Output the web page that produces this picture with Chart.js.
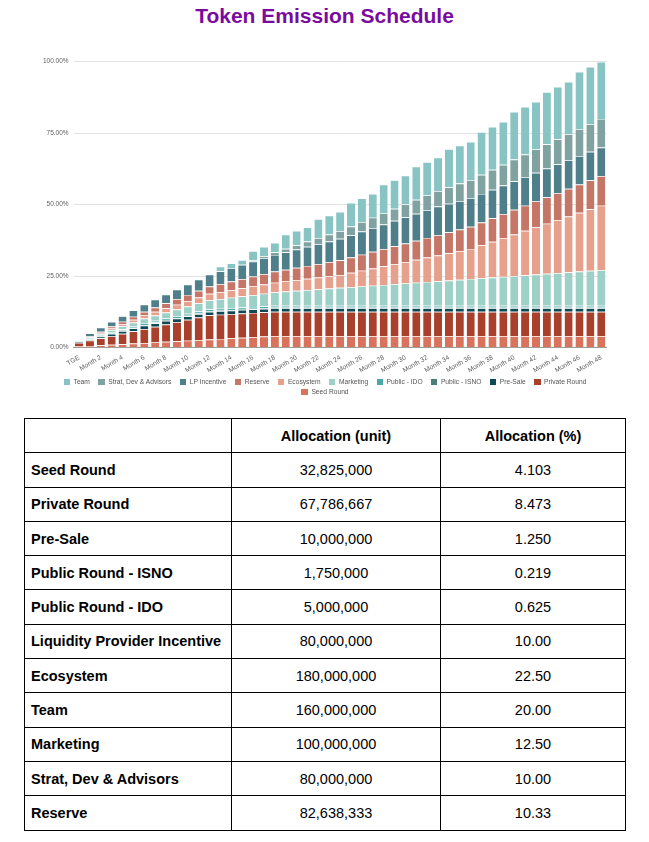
<!DOCTYPE html>
<html>
<head>
<meta charset="utf-8">
<script src="https://cdn.jsdelivr.net/npm/chart.js@4.4.1/dist/chart.umd.min.js"></script>
<style>
html,body{margin:0;padding:0;background:#fff;}
body{width:649px;height:842px;position:relative;overflow:hidden;font-family:Arial,"Liberation Sans",sans-serif;}
#title{position:absolute;left:0;top:5px;width:649px;text-align:center;font-size:21px;line-height:21px;font-weight:bold;color:#7a0b9f;}
#chartBox{position:absolute;left:0;top:0;width:649px;height:400px;}
#legend{position:absolute;left:45px;top:377px;width:560px;display:flex;flex-wrap:wrap;justify-content:center;column-gap:8.3px;row-gap:0;font-size:6.7px;color:#555;}
.li{display:flex;align-items:center;height:10px;line-height:10px;white-space:nowrap;}
.sw{width:6.5px;height:6.5px;margin-right:3.5px;}
table{position:absolute;left:24px;top:418px;width:601px;border-collapse:collapse;table-layout:fixed;font-size:14.5px;color:#000;}
td{border:1px solid #000;height:33.3px;padding:0;text-align:center;vertical-align:middle;}
td.n{text-align:left;padding-left:6px;font-weight:bold;}
tr.h td{font-weight:bold;}
</style>
</head>
<body>
<div id="title">Token Emission Schedule</div>
<div id="chartBox"><canvas id="c"></canvas></div>
<div id="legend"></div>
<table id="tbl"></table>
<script>
const categories = ['TGE','Month 1','Month 2','Month 3','Month 4','Month 5','Month 6','Month 7','Month 8','Month 9','Month 10','Month 11','Month 12','Month 13','Month 14','Month 15','Month 16','Month 17','Month 18','Month 19','Month 20','Month 21','Month 22','Month 23','Month 24','Month 25','Month 26','Month 27','Month 28','Month 29','Month 30','Month 31','Month 32','Month 33','Month 34','Month 35','Month 36','Month 37','Month 38','Month 39','Month 40','Month 41','Month 42','Month 43','Month 44','Month 45','Month 46','Month 47','Month 48'];

const seedRound = [0.41,0.62,0.82,1.03,1.23,1.44,1.64,1.85,2.05,2.26,2.46,2.67,2.87,3.08,3.28,3.49,3.69,3.90,4.10,4.10,4.10,4.10,4.10,4.10,4.10,4.10,4.10,4.10,4.10,4.10,4.10,4.10,4.10,4.10,4.10,4.10,4.10,4.10,4.10,4.10,4.10,4.10,4.10,4.10,4.10,4.10,4.10,4.10,4.10];
const privateRound = [1.27,1.87,2.47,3.07,3.67,4.27,4.87,5.47,6.07,6.67,7.27,7.87,8.47,8.47,8.47,8.47,8.47,8.47,8.47,8.47,8.47,8.47,8.47,8.47,8.47,8.47,8.47,8.47,8.47,8.47,8.47,8.47,8.47,8.47,8.47,8.47,8.47,8.47,8.47,8.47,8.47,8.47,8.47,8.47,8.47,8.47,8.47,8.47,8.47];
const preSale = [0.25,0.42,0.58,0.75,0.92,1.08,1.25,1.25,1.25,1.25,1.25,1.25,1.25,1.25,1.25,1.25,1.25,1.25,1.25,1.25,1.25,1.25,1.25,1.25,1.25,1.25,1.25,1.25,1.25,1.25,1.25,1.25,1.25,1.25,1.25,1.25,1.25,1.25,1.25,1.25,1.25,1.25,1.25,1.25,1.25,1.25,1.25,1.25,1.25];
const publicISNO = [0.05,0.08,0.11,0.14,0.16,0.19,0.22,0.22,0.22,0.22,0.22,0.22,0.22,0.22,0.22,0.22,0.22,0.22,0.22,0.22,0.22,0.22,0.22,0.22,0.22,0.22,0.22,0.22,0.22,0.22,0.22,0.22,0.22,0.22,0.22,0.22,0.22,0.22,0.22,0.22,0.22,0.22,0.22,0.22,0.22,0.22,0.22,0.22,0.22];
const publicIDO = [0.16,0.23,0.31,0.39,0.47,0.55,0.63,0.63,0.63,0.63,0.63,0.63,0.63,0.63,0.63,0.63,0.63,0.63,0.63,0.63,0.63,0.63,0.63,0.63,0.63,0.63,0.63,0.63,0.63,0.63,0.63,0.63,0.63,0.63,0.63,0.63,0.63,0.63,0.63,0.63,0.63,0.63,0.63,0.63,0.63,0.63,0.63,0.63,0.63];
const marketing = [0,0.26,0.52,0.78,1.04,1.30,1.56,1.82,2.08,2.34,2.60,2.86,3.13,3.39,3.65,3.91,4.17,4.43,4.69,4.95,5.21,5.47,5.73,5.99,6.25,6.51,6.77,7.03,7.29,7.55,7.81,8.07,8.33,8.59,8.85,9.11,9.38,9.64,9.90,10.16,10.42,10.68,10.94,11.20,11.46,11.72,11.98,12.24,12.50];
const ecosystem = [0,0.19,0.38,0.56,0.75,0.94,1.13,1.31,1.50,1.69,1.88,2.06,2.25,2.44,2.63,2.81,3.00,3.19,3.38,3.56,3.75,3.94,4.13,4.31,4.50,5.0,5.5,6.0,6.5,7.0,7.5,8.0,8.5,9.0,9.5,10.0,10.5,11.5,12.5,13.5,14.5,15.5,16.5,17.5,18.5,19.5,20.5,21.5,22.5];
const reserve = [0,0.22,0.43,0.65,0.86,1.08,1.29,1.51,1.72,1.94,2.15,2.37,2.58,2.80,3.01,3.23,3.44,3.66,3.87,4.09,4.30,4.52,4.73,4.95,5.17,5.38,5.60,5.81,6.03,6.24,6.46,6.67,6.89,7.10,7.32,7.53,7.75,7.96,8.18,8.39,8.61,8.82,9.04,9.25,9.47,9.68,9.90,10.11,10.33];
const lpIncentive = [0,1.11,1.39,1.67,1.94,2.22,2.50,2.78,3.06,3.33,3.61,3.89,4.17,4.44,4.72,5.00,5.28,5.56,5.83,6.11,6.39,6.67,6.94,7.22,7.50,7.78,8.06,8.33,8.61,8.89,9.17,9.44,9.72,10.0,10.0,10.0,10.0,10.0,10.0,10.0,10.0,10.0,10.0,10.0,10.0,10.0,10.0,10.0,10.0];
const stratDevAdvisors = [0,0,0,0,0,0,0,0,0,0,0,0,0,0,0,0,0.30,0.61,0.91,1.21,1.52,1.82,2.12,2.42,2.73,3.03,3.33,3.64,3.94,4.24,4.55,4.85,5.15,5.45,5.76,6.06,6.36,6.67,6.97,7.27,7.58,7.88,8.18,8.48,8.79,9.09,9.39,9.70,10.0];
const team = [0,0,0,0,0,0,0,0,0,0,0,0,0,1.67,1.67,1.67,3.33,3.33,3.33,5.0,5.0,5.0,6.67,6.67,6.67,8.33,8.33,8.33,10.0,10.0,10.0,11.67,11.67,11.67,13.33,13.33,13.33,15.0,15.0,15.0,16.67,16.67,16.67,18.33,18.33,18.33,20.0,20.0,20.0];

const yTicks = [0, 25, 50, 75, 100];

// table data
const tableHeader = ['', 'Allocation (unit)', 'Allocation (%)'];
const tableNames = ['Seed Round','Private Round','Pre-Sale','Public Round - ISNO','Public Round - IDO','Liquidity Provider Incentive','Ecosystem','Team','Marketing','Strat, Dev & Advisors','Reserve'];
const tableUnits = ['32,825,000','67,786,667','10,000,000','1,750,000','5,000,000','80,000,000','180,000,000','160,000,000','100,000,000','80,000,000','82,638,333'];
const tablePct = ['4.103','8.473','1.250','0.219','0.625','10.00','22.50','20.00','12.50','10.00','10.33'];

// series (bottom of stack first)
const seriesDefs = [
  {label:'Seed Round', data:seedRound, color:'#d9735b'},
  {label:'Private Round', data:privateRound, color:'#a8402b'},
  {label:'Pre-Sale', data:preSale, color:'#0e4a56'},
  {label:'Public - ISNO', data:publicISNO, color:'#4b7d78'},
  {label:'Public - IDO', data:publicIDO, color:'#4ba8a8'},
  {label:'Marketing', data:marketing, color:'#9dd0c7'},
  {label:'Ecosystem', data:ecosystem, color:'#e6a08c'},
  {label:'Reserve', data:reserve, color:'#c67667'},
  {label:'LP Incentive', data:lpIncentive, color:'#4f7f8a'},
  {label:'Strat, Dev & Advisors', data:stratDevAdvisors, color:'#80a3a1'},
  {label:'Team', data:team, color:'#87c4c3'}
];

const FONT = 'Arial, "Liberation Sans", sans-serif';

new Chart(document.getElementById('c'), {
  type: 'bar',
  data: {
    labels: categories,
    datasets: seriesDefs.map(s => ({
      label: s.label,
      data: s.data,
      backgroundColor: s.color,
      borderColor: 'rgba(255,255,255,0.85)',
      borderWidth: {top: 0.7, left: 0, right: 0, bottom: 0},
      borderSkipped: false,
      barPercentage: 0.74,
      categoryPercentage: 1.0
    }))
  },
  options: {
    responsive: true,
    maintainAspectRatio: false,
    animation: false,
    layout: {padding: {top: 61.7, left: 0, right: 42.3, bottom: 27}},
    plugins: {
      legend: {display: false},
      title: {display: false},
      tooltip: {enabled: false}
    },
    scales: {
      x: {
        stacked: true,
        grid: {display: false, drawTicks: false},
        border: {display: true, color: '#9e9e9e', width: 1},
        ticks: {
          autoSkip: false,
          minRotation: 30,
          maxRotation: 30,
          padding: 6,
          color: '#5f5f5f',
          font: {size: 6.6, family: FONT},
          callback: function(v, i) { return i % 2 === 0 ? this.getLabelForValue(v) : ''; }
        },
        afterFit: s => { s.height = 25.3; }
      },
      y: {
        stacked: true,
        min: 0,
        max: 100,
        afterBuildTicks: s => { s.ticks = yTicks.map(v => ({value: v})); },
        grid: {color: '#e2e2e2', lineWidth: 1, drawTicks: false},
        border: {display: false},
        ticks: {
          padding: 5,
          color: '#5f5f5f',
          font: {size: 6.5, family: FONT},
          callback: v => v.toFixed(2) + '%'
        },
        afterFit: s => { s.width = 73.6; }
      }
    }
  }
});

// legend (top of stack first)
const lg = document.getElementById('legend');
seriesDefs.slice().reverse().forEach(s => {
  const it = document.createElement('div'); it.className = 'li';
  const sw = document.createElement('span'); sw.className = 'sw'; sw.style.background = s.color;
  const tx = document.createElement('span'); tx.textContent = s.label;
  it.appendChild(sw); it.appendChild(tx); lg.appendChild(it);
});

// table
const tbl = document.getElementById('tbl');
const cg = document.createElement('colgroup');
[207, 209, 185].forEach(w => { const c = document.createElement('col'); c.style.width = w + 'px'; cg.appendChild(c); });
tbl.appendChild(cg);
const hr = document.createElement('tr'); hr.className = 'h';
tableHeader.forEach(h => { const td = document.createElement('td'); td.textContent = h; hr.appendChild(td); });
tbl.appendChild(hr);
tableNames.forEach((n, i) => {
  const tr = document.createElement('tr');
  const a = document.createElement('td'); a.className = 'n'; a.textContent = n;
  const b = document.createElement('td'); b.textContent = tableUnits[i];
  const c = document.createElement('td'); c.textContent = tablePct[i];
  tr.appendChild(a); tr.appendChild(b); tr.appendChild(c); tbl.appendChild(tr);
});
</script>
</body>
</html>
